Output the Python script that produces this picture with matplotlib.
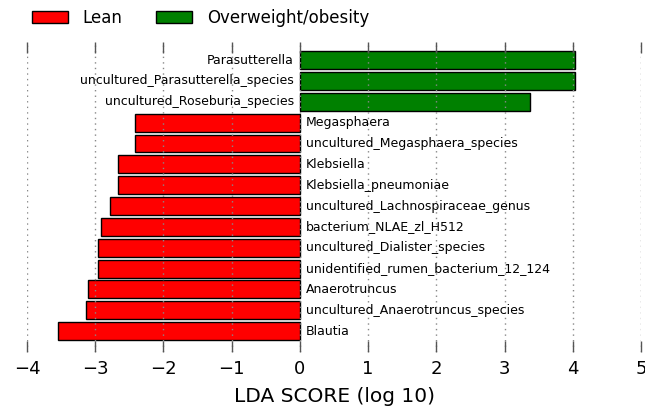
import matplotlib
matplotlib.use("Agg")
import matplotlib.pyplot as plt
from matplotlib.patches import Patch

# LEfSe results, top to bottom
taxa = [
    "Parasutterella",
    "uncultured_Parasutterella_species",
    "uncultured_Roseburia_species",
    "Megasphaera",
    "uncultured_Megasphaera_species",
    "Klebsiella",
    "Klebsiella_pneumoniae",
    "uncultured_Lachnospiraceae_genus",
    "bacterium_NLAE_zl_H512",
    "uncultured_Dialister_species",
    "unidentified_rumen_bacterium_12_124",
    "Anaerotruncus",
    "uncultured_Anaerotruncus_species",
    "Blautia",
]
lda = [4.03, 4.03, 3.37, -2.41, -2.41, -2.67, -2.67, -2.78, -2.92, -2.96,
       -2.96, -3.10, -3.14, -3.55]
groups = ["Lean", "Overweight/obesity"]
colors = {"Lean": "#ff0000", "Overweight/obesity": "#008000"}

fig = plt.figure(figsize=(6.45, 4.11), dpi=100)
ax = fig.add_axes([27 / 645, 1 - 352 / 411, 614 / 645, 310 / 411])

n = len(taxa)
ypos = [n - 1 - i for i in range(n)]
bar_cols = [colors["Lean"] if v < 0 else colors["Overweight/obesity"] for v in lda]
ax.barh(ypos, lda, height=0.86, color=bar_cols, edgecolor="black",
        linewidth=1.0, zorder=1)

# names sit on the opposite side of zero
for y, name, v in zip(ypos, taxa, lda):
    if v < 0:
        ax.text(0.09, y, name, ha="left", va="center", fontsize=9, zorder=3)
    else:
        ax.text(-0.09, y, name, ha="right", va="center", fontsize=9, zorder=3)

ax.set_xlim(-4, 5)
ax.set_ylim(-1.0, n - 1 + 0.87)
ax.set_xticks(range(-4, 6))
ax.set_yticks([])
for s in ax.spines.values():
    s.set_visible(False)
ax.xaxis.grid(True, linestyle=(0, (1, 3)), color="#888888", linewidth=1.0, zorder=2)
ax.set_axisbelow(False)
ax.tick_params(axis="x", direction="in", top=True, bottom=True, length=8,
               width=1.0, color="#555555", labelsize=13, pad=6)
ax.set_xlabel("LDA SCORE (log 10)", fontsize=14.5, labelpad=6)

handles = [Patch(facecolor=colors[g], edgecolor="black", label=g) for g in groups]
fig.legend(handles=handles, loc="upper left", bbox_to_anchor=(0.026, 1.015),
           ncol=2, frameon=False, fontsize=12, handlelength=2.2,
           handleheight=0.75, columnspacing=2.0, handletextpad=0.85)

fig.savefig("out.png", dpi=100)
